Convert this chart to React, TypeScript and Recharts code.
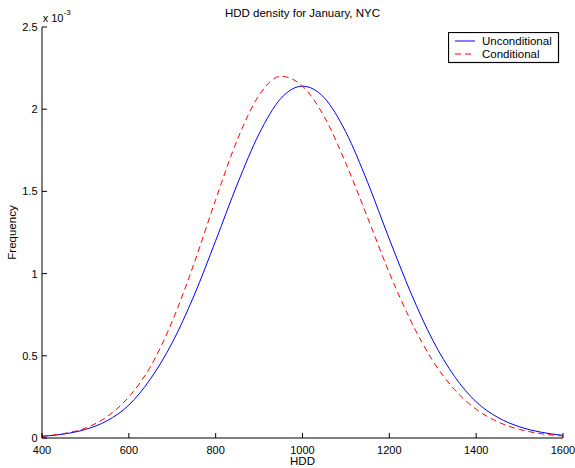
import React from 'react';
import { LineChart, Line, XAxis, YAxis, Legend } from 'recharts';

// HDD grid and density values (in units of 1e-3)
const hdd = [
  400, 450, 500, 550, 600, 650, 700, 750, 800, 850, 900, 950, 1000,
  1050, 1100, 1150, 1200, 1250, 1300, 1350, 1400, 1450, 1500, 1550, 1600,
];
const unconditional = [
  0.01, 0.024, 0.052, 0.105, 0.2, 0.36, 0.58, 0.865, 1.2, 1.545, 1.85, 2.065, 2.14,
  2.07, 1.86, 1.555, 1.21, 0.88, 0.595, 0.375, 0.22, 0.125, 0.068, 0.035, 0.016,
];
const conditional = [
  0.011, 0.027, 0.06, 0.13, 0.25, 0.435, 0.71, 1.06, 1.45, 1.815, 2.085, 2.2, 2.14,
  1.955, 1.67, 1.34, 1.005, 0.71, 0.47, 0.295, 0.175, 0.098, 0.052, 0.026, 0.012,
];

const xTicks = [400, 600, 800, 1000, 1200, 1400, 1600];
const yTicks = [0, 0.5, 1, 1.5, 2, 2.5];
const seriesNames = ['Unconditional', 'Conditional'];

const FONT = '"Liberation Sans", Arial, Helvetica, sans-serif';
const TICK_LEN = 5;

const data = hdd.map((h, i) => ({
  hdd: h,
  unconditional: unconditional[i],
  conditional: conditional[i],
}));

// MATLAB style: tick marks point into the plot box
function BottomTick({ x, y, payload }: any) {
  return (
    <g>
      <line x1={x} x2={x} y1={y} y2={y - TICK_LEN} stroke="#000" />
      <text x={x} y={y + 15.5} textAnchor="middle" fontSize={11} fontFamily={FONT} fill="#000">
        {payload.value}
      </text>
    </g>
  );
}

function TopTick({ x, y }: any) {
  return <line x1={x} x2={x} y1={y} y2={y + TICK_LEN} stroke="#000" />;
}

function LeftTick({ x, y, payload }: any) {
  return (
    <g>
      <line x1={x} x2={x + TICK_LEN} y1={y} y2={y} stroke="#000" />
      <text x={x - 4.5} y={y + 4} textAnchor="end" fontSize={11} fontFamily={FONT} fill="#000">
        {String(payload.value)}
      </text>
    </g>
  );
}

function RightTick({ x, y }: any) {
  return <line x1={x} x2={x - TICK_LEN} y1={y} y2={y} stroke="#000" />;
}

function LegendBox() {
  return (
    <svg width={112} height={32} style={{ display: 'block' }}>
      <rect x={0.5} y={0.5} width={110} height={30} fill="#fff" stroke="#000" strokeWidth={1.2} />
      <line x1={7} x2={27} y1={9} y2={9} stroke="#0000ff" />
      <line x1={7} x2={27} y1={22} y2={22} stroke="#ff0000" strokeDasharray="6 4" />
      <text x={34} y={12.8} fontSize={11.5} fontFamily={FONT} fill="#000">
        {seriesNames[0]}
      </text>
      <text x={34} y={26} fontSize={11.5} fontFamily={FONT} fill="#000">
        {seriesNames[1]}
      </text>
    </svg>
  );
}

export default function App() {
  return (
    <div style={{ position: 'absolute', left: 0, top: 0, width: 575, height: 468, background: '#fff' }}>
      <LineChart
        width={575}
        height={468}
        data={data}
        margin={{ top: 27, right: 12, bottom: 0, left: 0 }}
      >
        <XAxis
          dataKey="hdd"
          type="number"
          domain={[400, 1600]}
          ticks={xTicks}
          interval={0}
          height={30}
          tickSize={0}
          tickMargin={0}
          axisLine={{ stroke: '#000' }}
          tickLine={false}
          tick={<BottomTick />}
          allowDataOverflow
        />
        <XAxis
          xAxisId="top"
          orientation="top"
          dataKey="hdd"
          type="number"
          domain={[400, 1600]}
          ticks={xTicks}
          interval={0}
          height={0}
          tickSize={0}
          tickMargin={0}
          axisLine={{ stroke: '#000' }}
          tickLine={false}
          tick={<TopTick />}
          allowDataOverflow
        />
        <YAxis
          type="number"
          domain={[0, 2.5]}
          ticks={yTicks}
          interval={0}
          width={42}
          tickSize={0}
          tickMargin={0}
          axisLine={{ stroke: '#000' }}
          tickLine={false}
          tick={<LeftTick />}
          allowDataOverflow
        />
        <YAxis
          yAxisId="right"
          orientation="right"
          type="number"
          domain={[0, 2.5]}
          ticks={yTicks}
          interval={0}
          width={0}
          tickSize={0}
          tickMargin={0}
          axisLine={{ stroke: '#000' }}
          tickLine={false}
          tick={<RightTick />}
          allowDataOverflow
        />
        <Line
          type="monotone"
          dataKey="unconditional"
          name={seriesNames[0]}
          stroke="#0000ff"
          strokeWidth={1}
          dot={false}
          isAnimationActive={false}
        />
        <Line
          type="monotone"
          dataKey="conditional"
          name={seriesNames[1]}
          stroke="#ff0000"
          strokeWidth={1}
          strokeDasharray="6 4"
          dot={false}
          isAnimationActive={false}
        />
        <Legend
          layout="vertical"
          align="center"
          verticalAlign="middle"
          wrapperStyle={{ top: 32, left: 448, width: 112, height: 32 }}
          content={() => <LegendBox />}
        />
      </LineChart>

      {/* title, exponent and axis labels */}
      <svg
        width={575}
        height={468}
        style={{ position: 'absolute', left: 0, top: 0, pointerEvents: 'none' }}
      >
        <text x={302.5} y={17} textAnchor="middle" fontSize={11.5} fontFamily={FONT} fill="#000">
          HDD density for January, NYC
        </text>
        <text x={42.7} y={21.7} fontSize={11} fontFamily={FONT} fill="#000">
          x 10
        </text>
        <text x={63.5} y={15} fontSize={8} fontFamily={FONT} fill="#000">
          -3
        </text>
        <text x={302.5} y={465} textAnchor="middle" fontSize={11.5} fontFamily={FONT} fill="#000">
          HDD
        </text>
        <text
          transform="translate(15.5,232.5) rotate(-90)"
          textAnchor="middle"
          fontSize={11.5}
          fontFamily={FONT}
          fill="#000"
        >
          Frequency
        </text>
      </svg>
    </div>
  );
}
